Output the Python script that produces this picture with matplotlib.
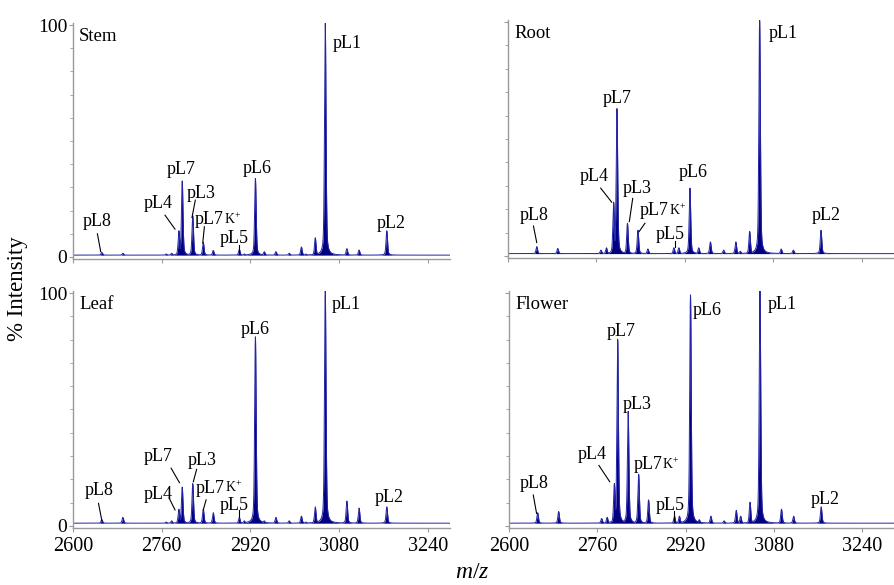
import numpy as np
import matplotlib
matplotlib.use('Agg')
import matplotlib.pyplot as plt
from matplotlib.ticker import MultipleLocator

plt.rcParams['font.family'] = ['Liberation Serif', 'DejaVu Serif']
plt.rcParams['mathtext.fontset'] = 'custom'
plt.rcParams['mathtext.rm'] = 'Liberation Serif'
plt.rcParams['mathtext.it'] = 'Liberation Serif:italic'

# peak list (m/z) shared by all tissues
peak_mz = [2652, 2690, 2768, 2778, 2791, 2797, 2816, 2835, 2853, 2900, 2909,
           2929, 2945, 2966, 2990, 3012, 3020, 3037, 3055, 3094, 3116, 3166]

# relative intensities (%)
stem_int = [1.2, 0.8, 0.5, 0.8, 10.5, 32, 17, 5.5, 2.0, 2.5, 0.5,
            33, 1.5, 1.5, 0.8, 3.5, 0.5, 7.5, 100, 2.8, 2.2, 10.5]
root_int = [3.0, 2.2, 1.5, 2.5, 22, 62, 13, 10, 2.0, 2.5, 2.5,
            28, 2.5, 5.0, 1.5, 5.0, 1.0, 9.5, 100, 2.0, 1.5, 10]
leaf_int = [1.5, 2.5, 0.5, 1.0, 6, 15.5, 17, 6, 4.5, 2.5, 1.0,
            80, 1.0, 2.5, 1.0, 3.0, 0.5, 7.0, 100, 9.5, 6.5, 7]
flower_int = [4.5, 5.0, 2.0, 2.5, 17, 79, 48, 21, 10, 3.0, 3.0,
              98, 1.5, 3.0, 1.0, 5.5, 3.0, 9.0, 100, 6.0, 3.0, 7]
baseline = {'Stem': 0.8, 'Root': 1.0, 'Leaf': 1.2, 'Flower': 1.2}

xticks = [2600, 2760, 2920, 3080, 3240]

# label text positions (m/z, %) and leader lines
labels = {
    'Stem': [('pL1', 3094, 92), ('pL7', 2795, 37.5), ('pL6', 2932, 38),
             ('pL4', 2753, 23), ('pL3', 2831, 27.5), ('pL7K', 2846, 16),
             ('pL5', 2891, 8), ('pL8', 2644, 15.2), ('pL2', 3174, 14.5)],
    'Root': [('pL1', 3098, 95), ('pL7', 2798, 67.4), ('pL4', 2755, 34),
             ('pL3', 2834, 29), ('pL7K', 2865, 19.4), ('pL5', 2894, 9),
             ('pL6', 2935, 35.6), ('pL8', 2647, 17.5), ('pL2', 3176, 17.5)],
    'Leaf': [('pL1', 3093, 95), ('pL6', 2929, 84.4), ('pL7', 2754, 29.7),
             ('pL3', 2833, 28.3), ('pL4', 2754, 13.3), ('pL7K', 2848, 16.2),
             ('pL5', 2891, 9), ('pL8', 2647, 15.2), ('pL2', 3171, 12.3)],
    'Flower': [('pL1', 3096, 95), ('pL6', 2959, 92.7), ('pL7', 2804, 83.4),
               ('pL3', 2833, 52), ('pL4', 2751, 30.5), ('pL7K', 2852, 26.2),
               ('pL5', 2892, 8.6), ('pL8', 2646, 18.3), ('pL2', 3174, 11.2)],
}
leaders = {
    'Stem': [(2766, 18, 2784, 12), (2820.6, 24.5, 2814.6, 17), (2837, 13, 2834, 6),
             (2899, 5, 2899, 2.3), (2644, 10, 2650, 2.3)],
    'Root': [(2767.6, 29, 2787.5, 23), (2825.5, 24.6, 2819.4, 14.7),
             (2847.7, 14, 2837, 10.4), (2902, 6.6, 2902, 3.7), (2646, 12.8, 2652, 5.7)],
    'Leaf': [(2777, 24.8, 2792, 18.6), (2823, 24.3, 2817, 19), (2773.6, 11.9, 2784, 6.9),
             (2840, 11.2, 2835, 6.9), (2899, 6.9, 2899, 4), (2646, 9.7, 2652, 2.3)],
    'Flower': [(2763, 26, 2782.6, 19), (2900, 6.4, 2900, 2.7), (2644, 13.3, 2650, 5.4)],
}

W, H = 894, 585
# panel boxes in pixels: left, right, top, bottom, xmax
panels = {
    'Stem': (73, 450, 22.7, 259.3, 3280, stem_int),
    'Root': (508, 894, 19.7, 258.3, 3298, root_int),
    'Leaf': (73, 450, 290.7, 528.3, 3280, leaf_int),
    'Flower': (509, 894, 290.7, 528.3, 3298, flower_int),
}

mz = np.arange(2600, 3300, 0.2)

fig = plt.figure(figsize=(W / 100, H / 100), dpi=100)

for name, (l, r, t, b, xmax, inten) in panels.items():
    ax = fig.add_axes([l / W, 1 - b / H, (r - l) / W, (b - t) / H])
    base = baseline[name]
    spec = np.full_like(mz, base)
    for c, h in zip(peak_mz, inten):
        shape = 0.7 * np.exp(-0.5 * ((mz - c) / 1.3) ** 2) + 0.3 / (1 + ((mz - c) / 2.0) ** 2)
        spec = np.maximum(spec, base + h * shape)
    ax.fill_between(mz, base, spec, color='#000080', lw=0)
    ax.plot(mz, spec, color='#2424a8', lw=0.7)

    ax.set_xlim(2600, xmax)
    ax.set_ylim(-1, 101)
    for s in ['top', 'right']:
        ax.spines[s].set_visible(False)
    for s in ['left', 'bottom']:
        ax.spines[s].set_color('#9a9a9a')
        ax.spines[s].set_linewidth(1.0)
    ax.set_xticks(xticks)
    ax.set_yticks([0, 100])
    ax.yaxis.set_minor_locator(MultipleLocator(10))
    ax.tick_params(axis='x', which='major', length=3, color='#9a9a9a',
                   labelsize=14.5, pad=3)
    ax.tick_params(axis='y', which='major', length=3, color='#9a9a9a',
                   labelsize=14, pad=1)
    ax.tick_params(axis='y', which='minor', length=2, color='#9a9a9a')
    if name in ('Root', 'Flower'):
        ax.tick_params(axis='y', labelleft=False)
    if name in ('Stem', 'Root'):
        ax.tick_params(axis='x', labelbottom=False)

    ax.text(2611, 95, name, fontsize=13.5, ha='left', va='center')
    for lab, x, y in labels[name]:
        if lab == 'pL7K':
            tx = ax.text(x, y, 'pL7', fontsize=13, ha='center', va='center')
            ax.annotate('K$^{+}$', xy=(1, 0.08), xycoords=tx, fontsize=10,
                        ha='left', va='bottom')
        else:
            ax.text(x, y, lab, fontsize=13, ha='center', va='center')
    for x0, y0, x1, y1 in leaders[name]:
        ax.plot([x0, x1], [y0, y1], color='black', lw=0.8)

fig.text(18 / W, 1 - 289 / H, '% Intensity', rotation=90, fontsize=16.5,
         ha='center', va='center')
fig.text(472 / W, 1 - 572 / H, r'$m/z$', fontsize=17, ha='center', va='center')

fig.savefig('out.png', dpi=100)
